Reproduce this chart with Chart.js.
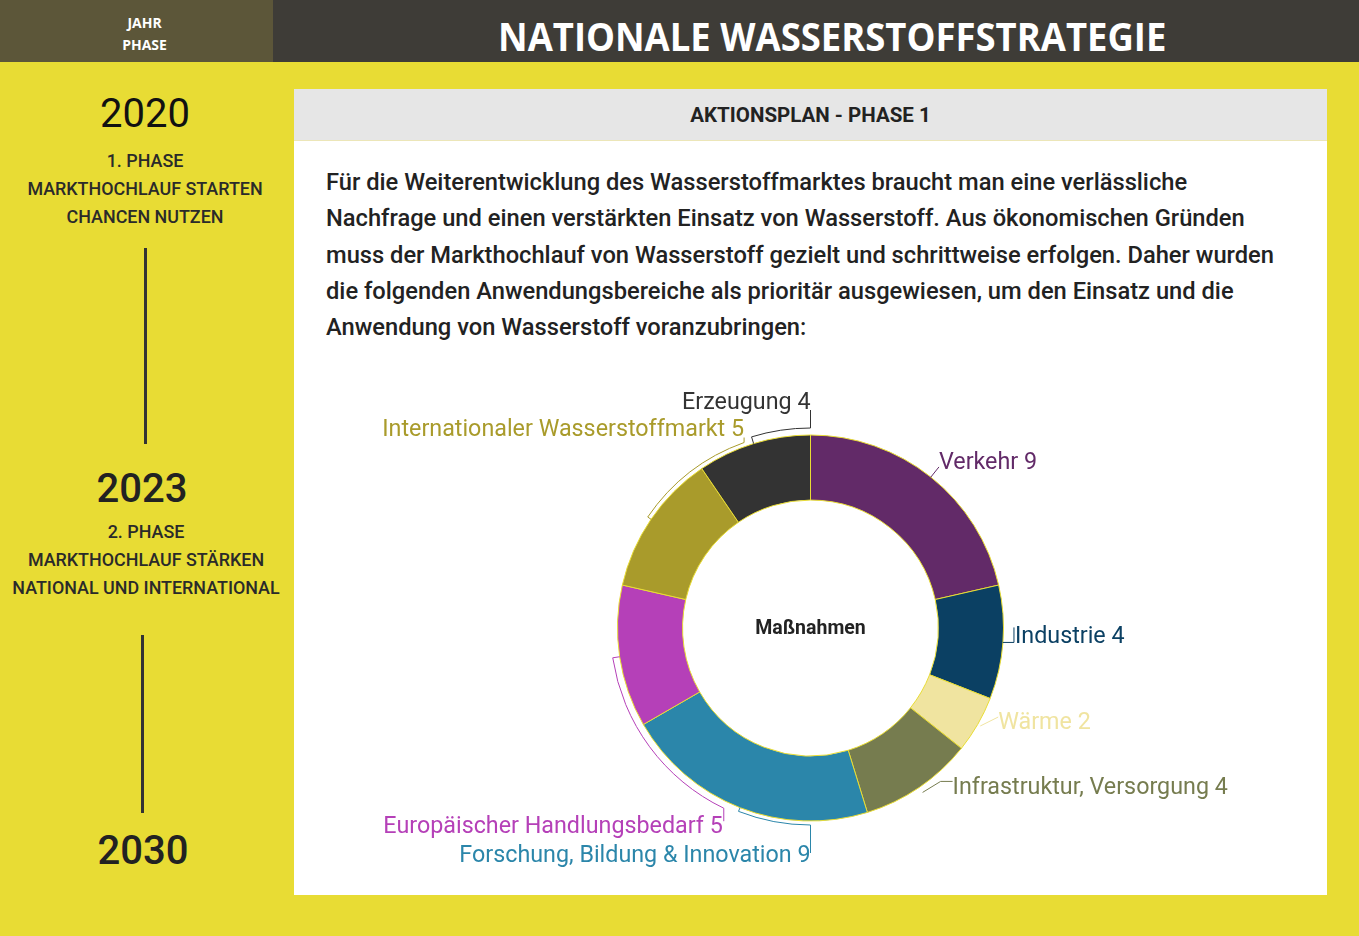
<!DOCTYPE html>
<html lang="de">
<head>
<meta charset="utf-8">
<title>Nationale Wasserstoffstrategie</title>
<script src="https://cdn.jsdelivr.net/npm/chart.js@4.4.1/dist/chart.umd.min.js"></script>
<style>
  html, body { margin: 0; padding: 0; }
  body {
    width: 1359px; height: 936px; overflow: hidden; position: relative;
    background: #e8dc34; font-family: Roboto, "Noto Sans", sans-serif; color: #222;
  }
  .abs { position: absolute; }
  .hdr-left { left: 0; top: 0; width: 273px; height: 62px; background: #5c5639; }
  .hdr-right { left: 273px; top: 0; width: 1086px; height: 62px; background: #3e3c37; }
  .hdr-small {
    font-family: "Open Sans", sans-serif; font-weight: 700; color: #fff; font-size: 14px;
    width: 273px; text-align: center; left: 8px; line-height: 22px;
  }
  .title {
    font-family: "Open Sans", sans-serif; font-weight: 700; color: #fff; font-size: 40px;
    white-space: nowrap; transform-origin: left center; line-height: 40px;
  }
  .year { font-size: 40px; font-weight: 500; text-align: center; width: 290px; line-height: 40px; }
  .phase { font-size: 17.9px; font-weight: 500; text-align: center; width: 300px; line-height: 28px; color: #2a2a2a; }
  .vline { width: 3px; background: #333; }
  .panel { left: 294px; top: 89px; width: 1033px; height: 806px; background: #fff; }
  .panel-head {
    left: 294px; top: 89px; width: 1033px; height: 52px; background: #e6e6e6;
    font-weight: 700; font-size: 20.5px; line-height: 52px; text-align: center; color: #222;
    border-bottom: 1px solid #ece6b8; box-sizing: border-box;
  }
  .intro {
    left: 326px; top: 164px; font-size: 23.7px; font-weight: 500; line-height: 36.3px;
    white-space: nowrap; color: #222;
  }
  #chartBox { left: 294px; top: 360px; width: 1033px; height: 536px; }
</style>
</head>
<body>
<div class="abs hdr-left"></div>
<div class="abs hdr-right"></div>
<div class="abs hdr-small" style="left:8px; top:12px;">JAHR</div>
<div class="abs hdr-small" style="left:8px; top:34px;">PHASE</div>
<div class="abs title" id="title" style="left:498px; top:16px;">NATIONALE WASSERSTOFFSTRATEGIE</div>

<div class="abs year" style="left:0; top:94px; color:#111; font-weight:400;">2020</div>
<div class="abs phase" style="left:-5px; top:147px;">1. PHASE<br>MARKTHOCHLAUF STARTEN<br>CHANCEN NUTZEN</div>
<div class="abs vline" style="left:144px; top:248px; height:196px;"></div>

<div class="abs year" style="left:-3px; top:469px;">2023</div>
<div class="abs phase" style="left:-4px; top:518px;">2. PHASE<br>MARKTHOCHLAUF STÄRKEN<br>NATIONAL UND INTERNATIONAL</div>
<div class="abs vline" style="left:141px; top:635px; height:178px;"></div>

<div class="abs year" style="left:-2px; top:831px;">2030</div>

<div class="abs panel"></div>
<div class="abs panel-head">AKTIONSPLAN - PHASE 1</div>
<div class="abs intro">Für die Weiterentwicklung des Wasserstoffmarktes braucht man eine verlässliche<br>Nachfrage und einen verstärkten Einsatz von Wasserstoff. Aus ökonomischen Gründen<br>muss der Markthochlauf von Wasserstoff gezielt und schrittweise erfolgen. Daher wurden<br>die folgenden Anwendungsbereiche als prioritär ausgewiesen, um den Einsatz und die<br>Anwendung von Wasserstoff voranzubringen:</div>

<div class="abs" id="chartBox"><canvas id="donut"></canvas></div>

<script>
// Maßnahmen je Anwendungsbereich (Aktionsplan Phase 1)
const categories = [
  'Verkehr',
  'Industrie',
  'Wärme',
  'Infrastruktur, Versorgung',
  'Forschung, Bildung & Innovation',
  'Europäischer Handlungsbedarf',
  'Internationaler Wasserstoffmarkt',
  'Erzeugung'
];
const counts = [9, 4, 2, 4, 9, 5, 5, 4];
const sliceColors = ['#622a68', '#0b4063', '#f0e4a0', '#767c4f', '#2b86aa', '#b540b8', '#a99b2b', '#333333'];
const centerLabel = 'Maßnahmen';

// fit the header title to the width it has in the original
const title = document.getElementById('title');
title.style.transform = 'scaleX(' + (668 / title.offsetWidth) + ')';

// leader lines: P = point at angle ('mid' or compass degrees) and offset beyond outer radius,
// A = arc at offset to compass angle, R = relative step. text anchored at the last point.
const leaders = [
  { path: [['P', 'mid', 0], ['P', 'mid', 13]], align: 'left', dx: 0, dy: 2 },
  { path: [['P', 'mid', 0], ['R', 11, 0], ['R', 0, -15]], align: 'left', dx: 1, dy: 16 },
  { path: [['P', 'mid', 3], ['R', 18, -9]], align: 'left', dx: 0, dy: 12 },
  { path: [['P', 'mid', 6], ['R', 18, -11], ['R', 12, 0]], align: 'left', dx: 0, dy: 13 },
  { path: [['P', 'mid', 0], ['P', 'mid', 4], ['A', 180, 4], ['R', 0, 28]], align: 'right', dx: 0, dy: 9 },
  { path: [['P', 'mid', 0], ['P', 'mid', 7], ['A', 205.7, 7], ['R', 0, 13]], align: 'right', dx: -1, dy: 12 },
  { path: [['P', 'mid', 0], ['P', 'mid', 4], ['A', 340.3, 4], ['R', 0, -5]], align: 'right', dx: 0, dy: -2 },
  { path: [['P', 'mid', 0], ['P', 'mid', 7], ['A', 360, 7], ['R', 0, -18]], align: 'right', dx: 0, dy: -1 }
];

const toRad = deg => (deg - 90) * Math.PI / 180;

const labelPlugin = {
  id: 'sliceLabels',
  afterDraw(chart) {
    const ctx = chart.ctx;
    const meta = chart.getDatasetMeta(0);
    ctx.save();
    meta.data.forEach((arc, i) => {
      const p = arc.getProps(['x', 'y', 'startAngle', 'endAngle', 'outerRadius'], true);
      const mid = (p.startAngle + p.endAngle) / 2;
      const cfg = leaders[i];
      const col = sliceColors[i];
      let cur = null;
      let curAngle = mid;
      let started = false;
      ctx.beginPath();
      ctx.strokeStyle = col;
      ctx.lineWidth = 1;
      cfg.path.forEach(step => {
        if (step[0] === 'P') {
          const a = step[1] === 'mid' ? mid : toRad(step[1]);
          const r = p.outerRadius + step[2];
          cur = { x: p.x + r * Math.cos(a), y: p.y + r * Math.sin(a) };
          curAngle = a;
          if (!started) { ctx.moveTo(cur.x, cur.y); started = true; } else ctx.lineTo(cur.x, cur.y);
        } else if (step[0] === 'A') {
          const a2 = toRad(step[1]);
          const r = p.outerRadius + step[2];
          ctx.arc(p.x, p.y, r, curAngle, a2, a2 < curAngle);
          cur = { x: p.x + r * Math.cos(a2), y: p.y + r * Math.sin(a2) };
          curAngle = a2;
        } else {
          cur = { x: cur.x + step[1], y: cur.y + step[2] };
          ctx.lineTo(cur.x, cur.y);
        }
      });
      ctx.stroke();
      ctx.font = '400 23.3px Roboto, "Noto Sans", sans-serif';
      ctx.fillStyle = col;
      ctx.textAlign = cfg.align;
      ctx.textBaseline = 'alphabetic';
      ctx.fillText(categories[i] + ' ' + counts[i], cur.x + cfg.dx, cur.y + cfg.dy);
    });
    // centre text
    const c = meta.data[0];
    ctx.font = '700 19.5px Roboto, "Noto Sans", sans-serif';
    ctx.fillStyle = '#222';
    ctx.textAlign = 'center';
    ctx.textBaseline = 'middle';
    ctx.fillText(centerLabel, c.x, c.y + 1);
    ctx.restore();
  }
};

new Chart(document.getElementById('donut'), {
  type: 'doughnut',
  data: {
    labels: categories,
    datasets: [{
      data: counts,
      backgroundColor: sliceColors,
      borderColor: '#e8dc34',
      borderWidth: 1
    }]
  },
  options: {
    responsive: true,
    maintainAspectRatio: false,
    animation: false,
    radius: 193,
    cutout: '66.3%',
    layout: { padding: 0 },
    plugins: {
      legend: { display: false },
      tooltip: { enabled: false }
    }
  },
  plugins: [labelPlugin]
});
</script>
</body>
</html>
